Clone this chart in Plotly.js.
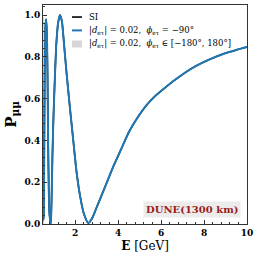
<!DOCTYPE html>
<html>
<head>
<meta charset="utf-8">
<script src="https://cdn.plot.ly/plotly-3.0.1.min.js"></script>
<style>html,body{margin:0;padding:0;background:#fff;}#chart{width:258px;height:258px;}</style>
</head>
<body>
<div id="chart"></div>
<script>
// Energy [GeV] and survival probability
const energy = [0.50, 0.515, 0.53, 0.55, 0.57, 0.59, 0.615, 0.64, 0.665, 0.69, 0.71, 0.74, 0.77, 0.80, 0.83, 0.855, 0.88, 0.91, 0.94, 0.97, 1.00, 1.06, 1.12, 1.20, 1.29, 1.38, 1.48, 1.60, 1.75, 1.90, 2.05, 2.20, 2.40, 2.61, 2.80, 3.00, 3.39, 3.77, 4.17, 4.50, 4.94, 5.33, 5.72, 6.10, 6.65, 7.43, 8.20, 8.98, 9.50, 10.0];
const pSI   = [0.12, 0.02, 0.03, 0.22, 0.55, 0.82, 0.95, 0.98, 0.95, 0.86, 0.72, 0.38, 0.16, 0.05, 0.02, 0.00, 0.04, 0.17, 0.33, 0.45, 0.55, 0.72, 0.86, 0.96, 1.00, 0.97, 0.86, 0.72, 0.56, 0.41, 0.26, 0.15, 0.05, 0.005, 0.03, 0.08, 0.178, 0.274, 0.365, 0.44, 0.515, 0.57, 0.612, 0.645, 0.69, 0.745, 0.785, 0.817, 0.833, 0.847];
const pNSI  = pSI.slice();
// Band of the phase scan (visible only at the lowest energies)
const bandE = [0.50, 0.55, 0.55, 0.50];
const bandP = [0.00, 0.00, 0.99, 0.99];
const xTicks = [2, 4, 6, 8, 10];
const yTicks = [0.0, 0.2, 0.4, 0.6, 0.8, 1.0];
const yTickText = ['0.0', '0.2', '0.4', '0.6', '0.8', '1.0'];
const legendLabels = ['SI',
  '|<i>d</i><sub>eτ</sub>| = 0.02,  <i>ϕ</i><sub>eτ</sub> = −90°',
  '|<i>d</i><sub>eτ</sub>| = 0.02,  <i>ϕ</i><sub>eτ</sub> ∈ [−180°, 180°]'];
const colSI = '#000000', colNSI = '#1f77b4', colBand = 'rgba(200,200,200,0.75)';

const serif = 'DejaVu Serif';
const traces = [
  {x: bandE, y: bandP, type: 'scatter', mode: 'none', fill: 'toself', fillcolor: colBand, name: legendLabels[2]},
  {x: energy, y: pSI, type: 'scatter', mode: 'lines',
   line: {color: colSI, width: 1.6, shape: 'spline', smoothing: 0.6}, name: legendLabels[0]},
  {x: energy, y: pNSI, type: 'scatter', mode: 'lines',
   line: {color: colNSI, width: 2, shape: 'spline', smoothing: 0.6}, name: legendLabels[1]}
];

// hand-built legend (compact rows like the reference)
const legY = [0.945, 0.884, 0.822];
const shapes = [
  {type: 'line', xref: 'paper', yref: 'paper', x0: 0.142, x1: 0.191, y0: legY[0], y1: legY[0], line: {color: colSI, width: 1.6}},
  {type: 'line', xref: 'paper', yref: 'paper', x0: 0.142, x1: 0.191, y0: legY[1], y1: legY[1], line: {color: colNSI, width: 2}},
  {type: 'rect', xref: 'paper', yref: 'paper', x0: 0.142, x1: 0.191, y0: legY[2] - 0.016, y1: legY[2] + 0.016, fillcolor: colBand, line: {width: 0}}
];
const annotations = legendLabels.map((t, i) => ({xref: 'paper', yref: 'paper', x: 0.218, y: legY[i],
  xanchor: 'left', yanchor: 'middle', text: t, showarrow: false,
  font: {family: serif, size: 8.5, color: '#000'}}));
annotations.push({xref: 'paper', yref: 'paper', x: 0.97, y: 0.068, xanchor: 'right', yanchor: 'middle',
  text: '<b>DUNE(1300 km)</b>', showarrow: false, bgcolor: '#ececec', borderpad: 2,
  font: {family: serif, size: 10, color: '#9b1c1c'}});

const layout = {
  width: 258, height: 258,
  margin: {l: 43, r: 11, t: 5, b: 34},
  paper_bgcolor: '#ffffff', plot_bgcolor: '#ffffff',
  font: {family: serif, color: '#000'},
  showlegend: false,
  xaxis: {range: [0.5, 10], tickvals: xTicks, ticktext: xTicks.map(String), ticks: 'inside', ticklen: 4,
          tickcolor: '#333', showline: true, linecolor: '#333', linewidth: 1, mirror: true,
          showgrid: false, zeroline: false,
          tickfont: {family: serif, size: 9, weight: 'bold', color: '#000'},
          minor: {dtick: 0.4, tick0: 0, ticks: 'inside', ticklen: 2, tickcolor: '#333', showgrid: false},
          title: {text: '<b>E</b> [GeV]', font: {family: serif, size: 12, color: '#000'}, standoff: 4}},
  yaxis: {range: [0, 1.048], tickvals: yTicks, ticktext: yTickText, ticks: 'inside', ticklen: 4,
          tickcolor: '#333', showline: true, linecolor: '#333', linewidth: 1, mirror: true,
          showgrid: false, zeroline: false,
          tickfont: {family: serif, size: 9, weight: 'bold', color: '#000'},
          minor: {dtick: 0.04, tick0: 0, ticks: 'inside', ticklen: 2, tickcolor: '#333', showgrid: false},
          title: {text: '<b>P</b><sub><b>μμ</b></sub>', font: {family: serif, size: 15, color: '#000'}, standoff: 4}},
  shapes: shapes,
  annotations: annotations
};

Plotly.newPlot('chart', traces, layout, {displayModeBar: false, staticPlot: true});
</script>
</body>
</html>
